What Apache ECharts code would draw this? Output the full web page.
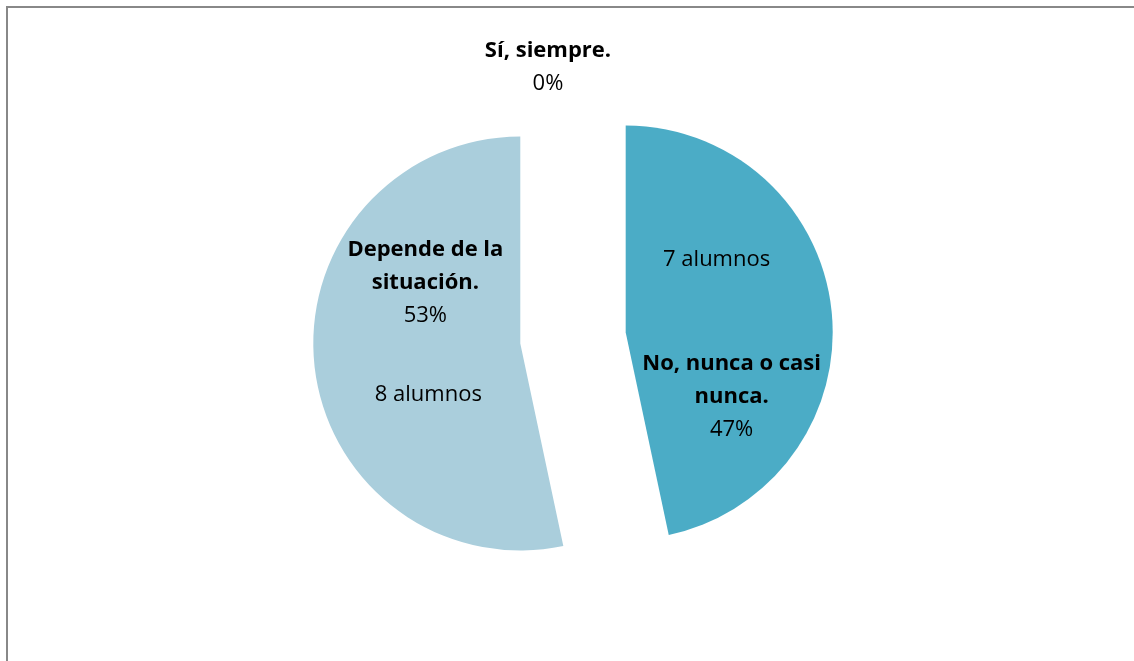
<!DOCTYPE html>
<html>
<head>
<meta charset="utf-8">
<script src="https://cdn.jsdelivr.net/npm/echarts@6.0.0/dist/echarts.min.js"></script>
<style>
  html, body { margin: 0; padding: 0; background: #fff; }
  #chart { width: 1134px; height: 661px; }
</style>
</head>
<body>
<div id="chart"></div>
<script>
// respuestas de la encuesta
const categories = ['Sí, siempre.', 'No, nunca o casi nunca.', 'Depende de la situación.'];
const labelTexts = ['Sí, siempre.', 'No, nunca o casi\nnunca.', 'Depende de la\nsituación.'];
const alumnos = [0, 7, 8];
const colors = ['#4F81BD', '#4BACC6', '#AACEDC'];

const chart = echarts.init(document.getElementById('chart'));

const font = '"Open Sans", sans-serif';
const center = [573, 338];
const radius = 207;

// label tweaks (Excel had them dragged around)
const nameShift = [[-25, -164], [0, 75], [11, -72]];
const countShift = [[0, 0], [-15, -62], [14, 40]];

const total = alumnos.reduce((a, b) => a + b, 0);

const nameData = categories.map((c, i) => ({
  name: c,
  value: alumnos[i],
  selected: alumnos[i] > 0,
  itemStyle: { color: colors[i] },
  label: {
    formatter: labelTexts[i] + '\n{p|' + Math.round(alumnos[i] / total * 100) + '%}'
  }
}));

const countData = categories.map((c, i) => ({
  name: c,
  value: alumnos[i],
  selected: alumnos[i] > 0,
  label: {
    show: alumnos[i] > 0,
    formatter: alumnos[i] + ' alumnos'
  }
}));

const option = {
  animation: false,
  backgroundColor: '#ffffff',
  graphic: [{
    type: 'rect',
    shape: { x: 7, y: 7, width: 1140, height: 700 },
    style: { fill: 'none', stroke: '#888888', lineWidth: 2 },
    silent: true
  }],
  series: [
    {
      type: 'pie',
      center: center,
      radius: radius,
      startAngle: 90,
      selectedMode: 'multiple',
      selectedOffset: 53,
      data: nameData,
      label: {
        show: true,
        position: 'inside',
        color: '#000',
        fontFamily: font,
        fontWeight: 'bold',
        fontSize: 22,
        lineHeight: 33,
        align: 'center',
        rich: {
          p: { fontFamily: font, fontWeight: 'normal', fontSize: 22, lineHeight: 33, color: '#000' }
        }
      },
      labelLayout: function (p) {
        const s = nameShift[p.dataIndex];
        return { dx: s[0], dy: s[1] };
      },
      labelLine: { show: false },
      emphasis: { disabled: true }
    },
    {
      type: 'pie',
      center: center,
      radius: radius,
      startAngle: 90,
      selectedMode: 'multiple',
      selectedOffset: 53,
      data: countData,
      itemStyle: { color: 'rgba(0,0,0,0)' },
      label: {
        position: 'inside',
        color: '#000',
        fontFamily: font,
        fontSize: 22
      },
      labelLayout: function (p) {
        const s = countShift[p.dataIndex];
        return { dx: s[0], dy: s[1] };
      },
      labelLine: { show: false },
      emphasis: { disabled: true },
      silent: true
    }
  ]
};

chart.setOption(option);
</script>
</body>
</html>
